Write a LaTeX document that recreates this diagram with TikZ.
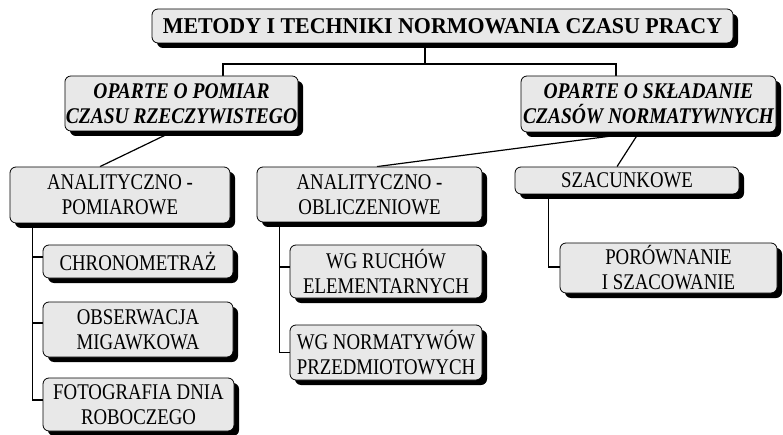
\documentclass[tikz,border=0pt]{standalone}
\usepackage{fontspec}
\setmainfont{Liberation Serif}
\newfontfamily\titlefont[FakeStretch=0.97]{Liberation Serif}
\newfontfamily\groupfont[FakeStretch=0.87]{Liberation Serif}
\newfontfamily\itemfont[FakeStretch=0.84]{Liberation Serif}
\usetikzlibrary{shadows,backgrounds}
\definecolor{boxgray}{RGB}{232,232,232}
\begin{document}
\begin{tikzpicture}[x=1pt,y=-1pt,
  box/.style={draw=black, line width=0.8pt, fill=boxgray, rounded corners=6pt,
    align=center, inner sep=1pt,
    drop shadow={shadow xshift=5pt, shadow yshift=-5pt, opacity=1, fill=black}},
  titlebox/.style={box, font=\titlefont\bfseries\fontsize{22.6}{26}\selectfont},
  groupbox/.style={box, font=\groupfont\bfseries\itshape\fontsize{22.4}{25}\selectfont},
  itembox/.style={box, font=\itemfont\fontsize{22.4}{25}\selectfont},
  link/.style={line width=1.2pt, line join=miter}]
\useasboundingbox (0,0) rectangle (783,435);

% level 0
\node[titlebox, minimum width=581pt, minimum height=34pt] (T) at (442.5,26)
  {METODY I TECHNIKI NORMOWANIA CZASU PRACY};

% level 1
\node[groupbox, minimum width=233pt, minimum height=55pt] (L) at (181.5,103.5)
  {OPARTE O POMIAR\\CZASU RZECZYWISTEGO};
\node[groupbox, minimum width=255pt, minimum height=56pt] (R) at (648.5,104)
  {OPARTE O SKŁADANIE\\CZASÓW NORMATYWNYCH};

% level 2
\node[itembox, minimum width=220pt, minimum height=56pt] (AP) at (120,195)
  {ANALITYCZNO -\\POMIAROWE};
\node[itembox, minimum width=225pt, minimum height=55pt] (AO) at (369.5,194.5)
  {ANALITYCZNO -\\OBLICZENIOWE};
\node[itembox, minimum width=224pt, minimum height=27pt] (SZ) at (627,180.5)
  {SZACUNKOWE};

% level 3
\node[itembox, minimum width=190pt, minimum height=33pt] (CH) at (138,261.5)
  {CHRONOMETRAŻ};
\node[itembox, minimum width=190pt, minimum height=55pt] (OB) at (138,329.5)
  {OBSERWACJA\\MIGAWKOWA};
\node[itembox, minimum width=191pt, minimum height=53pt] (FO) at (138.5,404.5)
  {FOTOGRAFIA DNIA\\ROBOCZEGO};
\node[itembox, minimum width=192pt, minimum height=53pt] (WR) at (386,271.5)
  {WG RUCHÓW\\ELEMENTARNYCH};
\node[itembox, minimum width=192pt, minimum height=55pt] (WN) at (386,352.5)
  {WG NORMATYWÓW\\PRZEDMIOTOWYCH};
\node[itembox, minimum width=217pt, minimum height=50pt] (PS) at (668.5,268)
  {PORÓWNANIE\\I SZACOWANIE};

% connectors
\begin{scope}[on background layer]
  \coordinate (hub) at (425,64);
  \coordinate (lj) at (223,64);
  \coordinate (rj) at (616,64);
  \draw[link] (hub |- T.south) -- (hub);
  \draw[link] (L.north -| lj) -- (lj) -- (rj) -- (R.north -| rj);

  \draw[link] ([xshift=-8.5pt]L.south) -- ([xshift=-20pt]AP.north);
  \draw[link] ([xshift=-9.5pt]R.south) -- ([xshift=7.5pt]AO.north);
  \draw[link] ([xshift=-9.5pt]R.south) -- ([xshift=-10pt]SZ.north);

  \coordinate (apx) at ([xshift=23pt]AP.south west);
  \draw[link] (apx) |- ([yshift=4.5pt]FO.west);
  \draw[link] ([yshift=4.5pt]CH.west) -| (apx);
  \draw[link] ([yshift=6.5pt]OB.west) -| (apx);

  \coordinate (aox) at ([xshift=23pt]AO.south west);
  \draw[link] (aox) |- (WN.west);
  \draw[link] ([yshift=4.5pt]WR.west) -| (aox);

  \coordinate (szx) at ([xshift=34pt]SZ.south west);
  \draw[link] (szx) |- ([yshift=1pt]PS.west);
\end{scope}
\end{tikzpicture}
\end{document}
